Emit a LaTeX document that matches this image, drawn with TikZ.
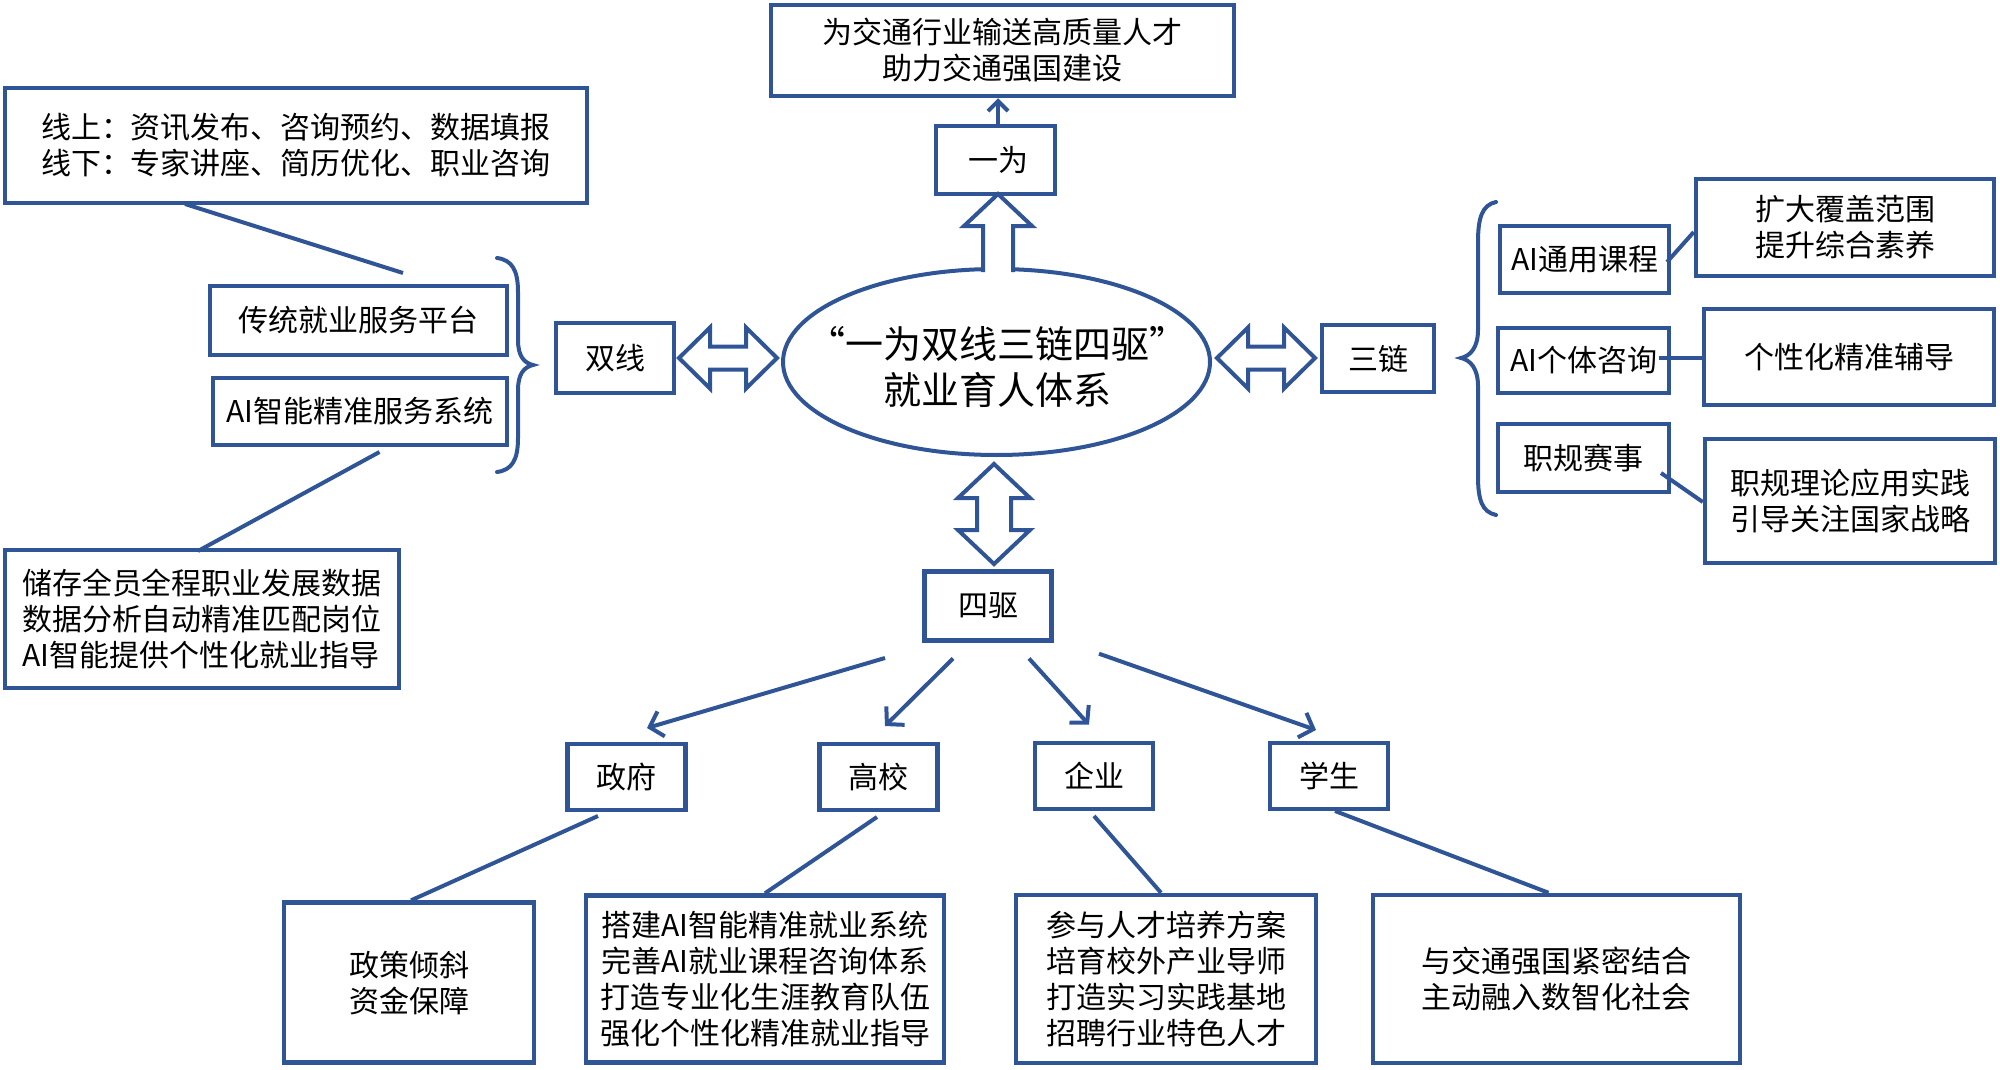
\documentclass[tikz,border=0pt]{standalone}
\usepackage{fontspec}
\setmainfont{Noto Sans CJK SC}
\usetikzlibrary{arrows.meta,shapes.geometric}
\definecolor{lb}{HTML}{2F5597}
\begin{document}
\begin{tikzpicture}[x=1pt,y=-1pt,
  bx/.style={draw=lb,line width=4.5pt,rectangle,inner sep=0pt,align=center,font=\fontsize{30}{36}\selectfont},
  wh/.style 2 args={minimum width=#1pt,minimum height=#2pt},
  ln/.style={draw=lb,line width=4pt},
  ar/.style={ln,-{Straight Barb[length=12pt,width=26pt,line width=4pt]}},
  hol/.style={draw=lb,line width=4pt,fill=white,line join=miter}]
\useasboundingbox (0,0) rectangle (2000,1070);

% top
\node[bx,wh={463}{91}] (top) at (1002.5,50.5) {为交通行业输送高质量人才\\助力交通强国建设};
\node[bx,wh={119}{68}] (yw) at (995.5,160) {\,一为};
% core
\node[draw=lb,line width=4pt,ellipse,minimum width=427pt,minimum height=186pt,inner sep=0pt] (core) at (996.5,362) {};
\node[align=center,inner sep=0pt,font=\fontsize{38}{46}\selectfont] (coretxt) at (997,367) {“一为双线三链四驱”\\就业育人体系};
% second level
\node[bx,wh={118}{70}] (sx) at (615,358) {双线};
\node[bx,wh={112}{67}] (sl) at (1378,358.5) {三链};
\node[bx,wh={127}{69}] (sq) at (988,606) {四驱};
% left
\node[bx,wh={582}{115}] (tl) at (296,145.5) {线上：资讯发布、咨询预约、数据填报\\线下：专家讲座、简历优化、职业咨询};
\node[bx,wh={297}{69}] (ct) at (358.5,320.5) {传统就业服务平台};
\node[bx,wh={294}{67}] (ai) at (360,411.5) {AI智能精准服务系统};
\node[bx,wh={394}{138},align=left] (bl) at (202,619) {储存全员全程职业发展数据\\数据分析自动精准匹配岗位\\AI智能提供个性化就业指导};
% right
\node[bx,wh={169}{67}] (r1) at (1584.5,259.5) {AI通用课程};
\node[bx,wh={171}{65}] (r2) at (1583.5,360.5) {AI个体咨询};
\node[bx,wh={171}{68}] (r3) at (1583.5,458) {职规赛事};
\node[bx,wh={298}{97}] (rr1) at (1845,227.5) {扩大覆盖范围\\提升综合素养};
\node[bx,wh={290}{96}] (rr2) at (1849,357) {个性化精准辅导};
\node[bx,wh={290}{124}] (rr3) at (1850,501) {职规理论应用实践\\引导关注国家战略};
% bottom
\node[bx,wh={118}{66}] (zf) at (626.6,777) {政府};
\node[bx,wh={118}{66}] (gx) at (878.5,777) {高校};
\node[bx,wh={118}{66}] (qy) at (1094,776) {企业};
\node[bx,wh={118}{66}] (xs) at (1329,776) {学生};
\node[bx,wh={250}{160}] (zc) at (409,982.6) {政策倾斜\\资金保障};
\node[bx,wh={358}{167}] (dj) at (765,979) {搭建AI智能精准就业系统\\完善AI就业课程咨询体系\\打造专业化生涯教育队伍\\强化个性化精准就业指导};
\node[bx,wh={300}{168}] (cy) at (1166,979) {参与人才培养方案\\培育校外产业导师\\打造实习实践基地\\招聘行业特色人才};
\node[bx,wh={367}{168}] (yj) at (1556.5,979) {与交通强国紧密结合\\主动融入数智化社会};

% connector points
\coordinate (tlA) at (185,204);
\coordinate (ctA) at (403,273);
\coordinate (aiA) at (379.5,452);
\coordinate (blA) at (198,551);
\coordinate (sqA) at (885,658);
\coordinate (zfA) at (647,728);
\coordinate (sqB) at (953,658.5);
\coordinate (gxA) at (885,726);
\coordinate (sqC) at (1029,658.5);
\coordinate (qyA) at (1089,724.7);
\coordinate (sqD) at (1099,653.7);
\coordinate (xsA) at (1316,730);

% plain connectors
\draw[ln] (tlA) -- (ctA);
\draw[ln] (aiA) -- (blA);
\draw[ln] (1667,262) -- (rr1.west |- 0,232);
\draw[ln] (1659,358) -- (rr2.west |- 0,358);
\draw[ln] (1661,473) -- (rr3.west |- 0,502);
\draw[ln] (598,816) -- (zc.north -| 411,0);
\draw[ln] (877,817) -- (dj.north -| 765,0);
\draw[ln] (1094,816) -- (cy.north -| 1161,0);
\draw[ln] (1335,811) -- (yj.north -| 1548.5,0);

% arrows from 四驱
\draw[ar] (sqA) -- (zfA);
\draw[ar] (sqB) -- (gxA);
\draw[ar] (sqC) -- (qyA);
\draw[ar] (sqD) -- (xsA);
% thin arrow to top
\draw[ln,-{Straight Barb[length=10pt,width=20pt,line width=4pt]}] (yw.north -| 998,0) -- (top.south -| 998,0);

% hollow arrows
\draw[hol] (983,272) -- (983,226) -- (964,226) -- (998,194) -- (1032,226) -- (1013,226) -- (1013,272);
\draw[hol] (679,358) -- (710,327.5) -- (710,346.5) -- (746,346.5) -- (746,327.5) -- (777,358) -- (746,388.5) -- (746,369.5) -- (710,369.5) -- (710,388.5) -- cycle;
\draw[hol] (1217,358) -- (1248,327.5) -- (1248,346.5) -- (1284,346.5) -- (1284,327.5) -- (1315,358) -- (1284,388.5) -- (1284,369.5) -- (1248,369.5) -- (1248,388.5) -- cycle;
\draw[hol] (994,464) -- (1030,498) -- (1011,498) -- (1011,530) -- (1030,530) -- (994,564) -- (958,530) -- (977,530) -- (977,498) -- (958,498) -- cycle;

% braces
\draw[ln,line cap=round] (497,258) .. controls (512,260) and (518,270) .. (518,292) -- (518,340) .. controls (518,356) and (524,363) .. (533,365) .. controls (524,367) and (518,374) .. (518,390) -- (518,438) .. controls (518,460) and (512,470) .. (497,472);
\draw[ln,line cap=round] (1496,202) .. controls (1482,205) and (1478,218) .. (1478,242) -- (1478,330) .. controls (1478,348) and (1470,356) .. (1461,358) .. controls (1470,360) and (1478,368) .. (1478,386) -- (1478,476) .. controls (1478,500) and (1482,512) .. (1496,515);
\end{tikzpicture}
\end{document}
